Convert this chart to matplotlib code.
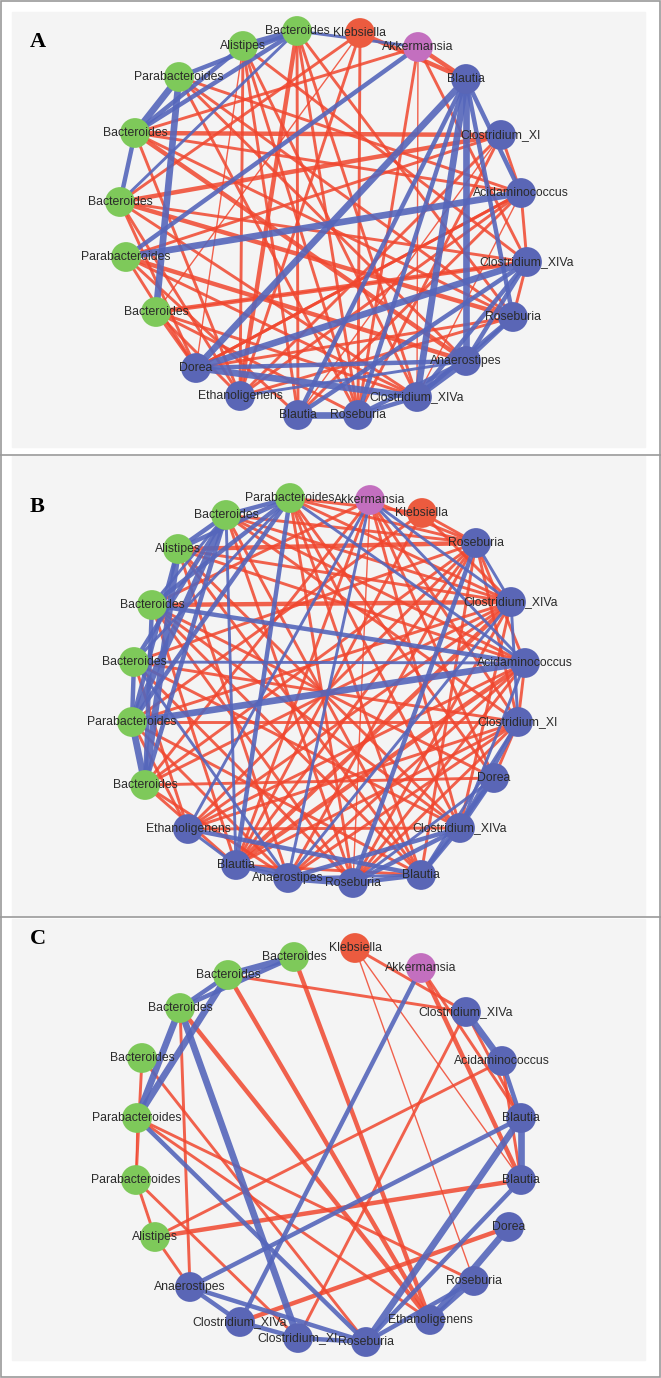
import matplotlib
matplotlib.use("Agg")
import matplotlib.pyplot as plt
from matplotlib.patches import Rectangle

plt.rcParams["font.family"] = ["Liberation Sans", "DejaVu Sans"]

# ---- node tables (name, group, layout x/y) ----
# group: g = Bacteroidetes, r = Klebsiella, p = Akkermansia, b = Firmicutes
names_A = ["Bacteroides", "Klebsiella", "Akkermansia", "Blautia", "Clostridium_XI",
           "Acidaminococcus", "Clostridium_XIVa", "Roseburia", "Anaerostipes",
           "Clostridium_XIVa", "Roseburia", "Blautia", "Ethanoligenens", "Dorea",
           "Bacteroides", "Parabacteroides", "Bacteroides", "Bacteroides",
           "Parabacteroides", "Alistipes"]
groups_A = ["g", "r", "p", "b", "b", "b", "b", "b", "b", "b", "b", "b", "b", "b",
            "g", "g", "g", "g", "g", "g"]
layout_x_A = [297, 360, 418, 466, 501, 521, 527, 513, 466, 417, 358, 298, 240, 196,
              156, 126, 120, 135, 179, 243]
layout_y_A = [31, 33, 47, 79, 135, 193, 262, 317, 361, 397, 415, 415, 396, 368,
              312, 257, 202, 133, 77, 46]

names_B = ["Parabacteroides", "Akkermansia", "Klebsiella", "Roseburia",
           "Clostridium_XIVa", "Acidaminococcus", "Clostridium_XI", "Dorea",
           "Clostridium_XIVa", "Blautia", "Roseburia", "Anaerostipes", "Blautia",
           "Ethanoligenens", "Bacteroides", "Parabacteroides", "Bacteroides",
           "Bacteroides", "Alistipes", "Bacteroides"]
groups_B = ["g", "p", "r", "b", "b", "b", "b", "b", "b", "b", "b", "b", "b", "b",
            "g", "g", "g", "g", "g", "g"]
layout_x_B = [290, 370, 422, 476, 511, 525, 518, 494, 460, 421, 353, 288, 236, 188,
              145, 132, 134, 152, 178, 226]
layout_y_B = [43, 45, 58, 88, 147, 208, 267, 323, 373, 420, 428, 423, 410, 374,
              330, 267, 207, 150, 94, 60]

names_C = ["Bacteroides", "Klebsiella", "Akkermansia", "Clostridium_XIVa",
           "Acidaminococcus", "Blautia", "Blautia", "Dorea", "Roseburia",
           "Ethanoligenens", "Roseburia", "Clostridium_XI", "Clostridium_XIVa",
           "Anaerostipes", "Alistipes", "Parabacteroides", "Parabacteroides",
           "Bacteroides", "Bacteroides", "Bacteroides"]
groups_C = ["g", "r", "p", "b", "b", "b", "b", "b", "b", "b", "b", "b", "b", "b",
            "g", "g", "g", "g", "g", "g"]
layout_x_C = [294, 355, 421, 466, 502, 521, 521, 509, 474, 430, 366, 298, 240, 190,
              155, 136, 137, 142, 180, 228]
layout_y_C = [40, 31, 51, 95, 144, 201, 263, 310, 364, 403, 425, 421, 405, 370,
              320, 263, 201, 141, 91, 58]

# ---- edges: (node i, node j, weight class 1..4) ----
blue_A = [(0, 19, 4), (0, 18, 3), (0, 17, 3), (0, 16, 2), (19, 17, 3), (18, 17, 4),
          (17, 16, 3), (18, 14, 4), (0, 2, 2), (2, 15, 3), (3, 13, 4), (3, 11, 3),
          (3, 10, 3), (3, 9, 4), (3, 8, 4), (3, 5, 3), (3, 7, 3), (5, 15, 4),
          (6, 13, 4), (6, 9, 3), (6, 8, 3), (13, 8, 3), (13, 9, 4), (11, 10, 4),
          (10, 9, 3), (10, 8, 3), (9, 8, 4), (9, 7, 3), (8, 7, 3), (11, 6, 3),
          (12, 8, 2)]
red_A = [(0, 12, 3), (0, 11, 2), (0, 10, 2), (0, 9, 2), (0, 7, 2), (1, 3, 3),
         (1, 12, 2), (1, 16, 2), (1, 14, 1), (2, 17, 2), (2, 10, 2), (2, 6, 2),
         (2, 3, 3), (2, 9, 1), (19, 9, 2), (19, 11, 2), (19, 6, 2), (19, 13, 1),
         (19, 10, 2), (18, 5, 2), (18, 8, 2), (18, 10, 2), (18, 7, 2), (17, 4, 3),
         (17, 5, 2), (17, 7, 2), (17, 8, 3), (17, 12, 2), (16, 4, 3), (16, 6, 2),
         (16, 7, 3), (16, 9, 2), (16, 13, 2), (16, 12, 2), (15, 4, 2), (15, 8, 3),
         (15, 11, 2), (15, 13, 2), (15, 9, 2), (14, 6, 3), (14, 9, 2), (14, 10, 2),
         (14, 12, 2), (14, 13, 2), (13, 5, 2), (12, 5, 2), (12, 4, 2), (11, 5, 2),
         (10, 4, 2), (9, 5, 1), (4, 5, 2), (5, 6, 2), (6, 7, 2), (4, 11, 1),
         (7, 12, 2), (7, 13, 2), (5, 13, 2), (6, 14, 1), (1, 10, 2), (19, 12, 2)]

blue_B = [(0, 19, 3), (0, 18, 3), (0, 17, 3), (0, 16, 2), (0, 15, 3), (19, 18, 3),
          (19, 17, 2), (19, 16, 3), (19, 15, 4), (19, 14, 3), (18, 15, 3),
          (18, 14, 4), (17, 14, 3), (16, 15, 3), (15, 14, 4), (17, 5, 3),
          (16, 5, 2), (15, 5, 4), (0, 5, 2), (1, 4, 2), (1, 5, 2), (1, 13, 2),
          (0, 12, 3), (3, 10, 3), (4, 11, 2), (1, 11, 2), (6, 8, 3), (6, 9, 2),
          (7, 8, 3), (7, 9, 3), (8, 9, 3), (8, 10, 3), (8, 11, 3), (9, 10, 3),
          (9, 11, 2), (10, 11, 4), (11, 12, 3), (12, 13, 2), (13, 9, 3), (12, 10, 3),
          (7, 10, 2), (4, 6, 2), (3, 4, 2), (19, 12, 2), (16, 11, 2), (5, 8, 2)]
red_B = [(0, 2, 2), (0, 3, 2), (0, 9, 2), (0, 10, 2), (0, 7, 2), (0, 8, 2),
         (1, 3, 2), (1, 6, 2), (1, 8, 2), (1, 10, 1), (1, 14, 2),
         (1, 17, 2), (1, 12, 2), (2, 4, 2), (2, 15, 2), (2, 12, 2),
         (19, 4, 2), (19, 6, 2), (19, 9, 2), (19, 10, 2), (19, 3, 2),
         (18, 3, 3), (18, 5, 2), (18, 8, 2), (18, 11, 2), (18, 9, 2), (18, 4, 2),
         (17, 4, 3), (17, 7, 2), (17, 9, 2), (17, 12, 2), (17, 10, 2),
         (16, 3, 2), (16, 6, 2), (16, 8, 2), (16, 10, 2), (16, 13, 2),
         (15, 6, 2), (15, 4, 2), (15, 9, 2), (15, 11, 2), (15, 13, 2),
         (14, 3, 2), (14, 4, 2), (14, 7, 2), (14, 12, 2), (14, 11, 2),
         (13, 3, 2), (13, 4, 2), (13, 5, 2), (13, 6, 2), (12, 3, 2),
         (12, 4, 3), (12, 5, 3), (12, 6, 2), (11, 3, 2), (11, 5, 2), (11, 6, 2),
         (10, 4, 2), (10, 5, 2), (10, 6, 2), (9, 3, 2),
         (9, 12, 2), (8, 13, 2), (3, 5, 2), (3, 6, 2), (5, 6, 2), (6, 7, 2),
         (4, 8, 2), (2, 3, 2), (0, 4, 2), (19, 5, 2), (17, 8, 2), (1, 7, 2)]

blue_C = [(0, 19, 4), (0, 18, 3), (19, 18, 3), (19, 16, 4), (18, 16, 4), (18, 11, 4),
          (16, 10, 3), (2, 12, 3), (5, 13, 3), (5, 10, 4), (6, 10, 3), (5, 6, 4),
          (3, 4, 4), (4, 5, 3), (7, 9, 4), (8, 10, 3), (8, 9, 3), (13, 10, 3),
          (13, 12, 3), (12, 11, 3), (11, 10, 3)]
red_C = [(19, 3, 2), (1, 3, 2), (1, 8, 1), (1, 6, 1), (2, 6, 3), (2, 5, 2),
         (0, 9, 3), (19, 9, 3), (18, 9, 3), (17, 10, 2), (16, 9, 2), (16, 8, 2),
         (18, 13, 2), (17, 15, 2), (16, 15, 1), (15, 11, 2), (15, 14, 2),
         (14, 13, 2), (14, 4, 2), (14, 6, 3), (12, 7, 3), (11, 3, 2), (3, 5, 2),
         (4, 6, 2)]

# ---- styling ----
node_colors = {"g": "#7ec95a", "r": "#ec5b3f", "p": "#c36fbf", "b": "#5a66b6"}
edge_blue = "#5566bb"
edge_red = "#f0472f"
width_map = {1: 1.0, 2: 2.1, 3: 3.2, 4: 4.8}

W, H = 661, 1378
fig = plt.figure(figsize=(W / 100, H / 100), dpi=100)
fig.patch.set_facecolor("white")

# letter y, background top / bottom inside each panel
panels = [
    ("A", 0, 455, 42, 12, 447, names_A, groups_A, layout_x_A, layout_y_A, blue_A, red_A),
    ("B", 455, 462, 52, 1, 461, names_B, groups_B, layout_x_B, layout_y_B, blue_B, red_B),
    ("C", 917, 461, 22, 2, 443, names_C, groups_C, layout_x_C, layout_y_C, blue_C, red_C),
]

for (letter, top, ph, ly, bg0, bg1, names, groups, xs, ys,
     blues, reds) in panels:
    ax = fig.add_axes([0, 1 - (top + ph) / H, 1, ph / H])
    ax.set_xlim(0, W)
    ax.set_ylim(ph, 0)
    ax.axis("off")
    ax.add_patch(Rectangle((12, bg0), 633, bg1 - bg0, color="#f4f4f4", zorder=0))

    for i, j, w in reds:
        ax.plot([xs[i], xs[j]], [ys[i], ys[j]], color=edge_red, lw=width_map[w],
                alpha=0.85, solid_capstyle="butt", zorder=1)
    for i, j, w in blues:
        ax.plot([xs[i], xs[j]], [ys[i], ys[j]], color=edge_blue, lw=width_map[w],
                alpha=0.9, solid_capstyle="butt", zorder=2)

    ax.scatter(xs, ys, s=460, c=[node_colors[g] for g in groups],
               edgecolors="none", zorder=3)
    for name, x, y in zip(names, xs, ys):
        ax.text(x, y, name, ha="center", va="center", fontsize=8.8,
                color="#2a2a2a", zorder=4)

    ax.text(30, ly, letter, fontsize=16, fontweight="bold",
            family="Liberation Serif", ha="left", va="center", zorder=5)

# panel frames
frame = fig.add_axes([0, 0, 1, 1], facecolor="none")
frame.set_xlim(0, W)
frame.set_ylim(H, 0)
frame.axis("off")
for yline in (455, 917):
    frame.plot([0, W], [yline, yline], color="#9a9a9a", lw=1.2)
frame.add_patch(Rectangle((0.5, 0.5), W - 1.5, H - 1.5, fill=False,
                          edgecolor="#9a9a9a", lw=1.2))

fig.savefig("out.png", dpi=100)
